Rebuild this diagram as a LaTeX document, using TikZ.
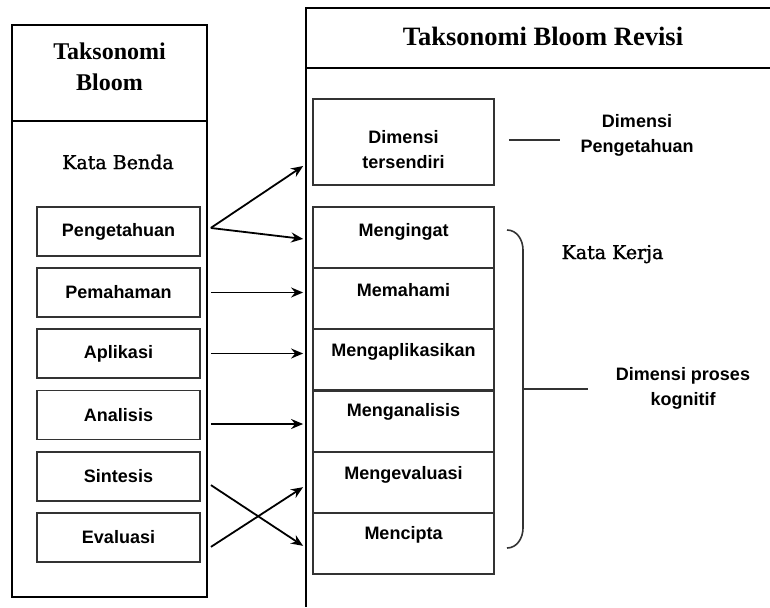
\documentclass[tikz,border=0pt]{standalone}
\usepackage{fontspec}
\setmainfont{Liberation Serif}
\setsansfont{Liberation Sans}
\newfontfamily\katafont{DejaVu Serif}[UprightFeatures={FakeBold=1.5}]
\usetikzlibrary{arrows.meta}

\begin{document}
\begin{tikzpicture}[x=1pt,y=-1pt,
    bingkai/.style={line width=2pt},
    kotak/.style={draw=black!80,line width=1.8pt,minimum width=163pt,minimum height=49pt,inner sep=0pt,font=\sffamily\bfseries\fontsize{18}{20}\selectfont},
    sel/.style={draw=black!80,line width=1.8pt,minimum width=181pt,minimum height=61pt,inner sep=0pt},
    isi/.style={font=\sffamily\bfseries\fontsize{18}{20}\selectfont},
    ket/.style={align=center,font=\sffamily\bfseries\fontsize{18}{25}\selectfont},
    kata/.style={font=\katafont\fontsize{19}{22}\selectfont},
    panah/.style={-{Stealth[length=12pt,width=10pt,inset=4pt]},line width=1.8pt,shorten <=10pt,shorten >=9pt},
    garis/.style={line width=1.6pt,black!80}]
    \useasboundingbox (0,0) rectangle (770,607);
    \draw[bingkai] (12,25) rectangle (207,597);
    \draw[bingkai] (12,121) -- (207,121);
    \draw[bingkai] (770,8) -- (306,8) -- (306,607);
    \draw[bingkai] (306,68) -- (770,68);
    \node[align=center,font=\bfseries\fontsize{24}{31}\selectfont] (tb) at (109.5,67) {Taksonomi\\Bloom};
    \node[font=\bfseries\fontsize{26.5}{30}\selectfont] (tbr) at (543,36) {Taksonomi Bloom Revisi};
    \node[kata] (benda) at (118,162) {Kata Benda};
    \node[kata,anchor=base] (kerja) at (612.5,259) {Kata Kerja};
    \node[kotak] (peng) at (118.5,231.5) {Pengetahuan};
    \node[kotak] (pem) at (118.5,292.5) {Pemahaman};
    \node[kotak] (apl) at (118.5,353.5) {Aplikasi};
    \node[kotak] (ana) at (118.5,415) {Analisis};
    \node[kotak] (sin) at (118.5,476.5) {Sintesis};
    \node[kotak] (eva) at (118.5,537.5) {Evaluasi};
    \node[sel,minimum height=86pt] (dim) at (403.5,142) {};
    \node[ket] (tdim) at (403.5,150) {Dimensi\\tersendiri};
    \node[sel] (ingat) at (403.5,237.5) {};
    \node[sel] (mem) at (403.5,298.5) {};
    \node[sel] (mapl) at (403.5,359.5) {};
    \node[sel] (mana) at (403.5,421.5) {};
    \node[sel] (mev) at (403.5,482.5) {};
    \node[sel] (cipta) at (403.5,543.5) {};
    \node[isi] (tingat) at (403.5,231.5) {Mengingat};
    \node[isi] (tmem) at (403.5,290) {Memahami};
    \node[isi] (tmapl) at (403.5,352) {Mengaplikasikan};
    \node[isi] (tmana) at (403.5,412) {Menganalisis};
    \node[isi] (tmev) at (403.5,475) {Mengevaluasi};
    \node[isi] (tcipta) at (403.5,535) {Mencipta};
    \node[ket] (dp) at (637,135) {Dimensi\\Pengetahuan};
    \node[ket] (dpk) at (683,388) {Dimensi proses\\kognitif};
    \draw[garis] ([xshift=14pt,yshift=2pt]dim.east) -- ([xshift=65pt,yshift=2pt]dim.east);
    \draw[garis] (507,230) to[out=0,in=90] (523,250) -- (523,528) to[out=-90,in=0] (507,548);
    \coordinate (kurung) at (523,389);
    \draw[garis,shorten >=24pt] (kurung) -- (kurung -| dpk.west);
    \draw[panah,shorten <=12pt,shorten >=10.8pt] ([yshift=-3.1pt]peng.east) -- ([yshift=-18pt]dim.west);
    \draw[panah] ([yshift=4.7pt]peng.east) -- ([yshift=-2.5pt]ingat.west);
    \draw[panah] (pem.east) -- (pem.east -| mem.west);
    \draw[panah] (apl.east) -- (apl.east -| mapl.west);
    \draw[panah] ([yshift=-9pt]ana.east) -- ([yshift=-2.5pt]mana.west);
    \draw[panah,shorten <=12pt,shorten >=10.8pt] ([yshift=-2pt]sin.east) -- ([yshift=-8.3pt]cipta.west);
    \draw[panah,shorten <=12pt,shorten >=10.8pt] ([yshift=-15.9pt]eva.east) -- ([yshift=1.2pt]mev.west);
\end{tikzpicture}
\end{document}
